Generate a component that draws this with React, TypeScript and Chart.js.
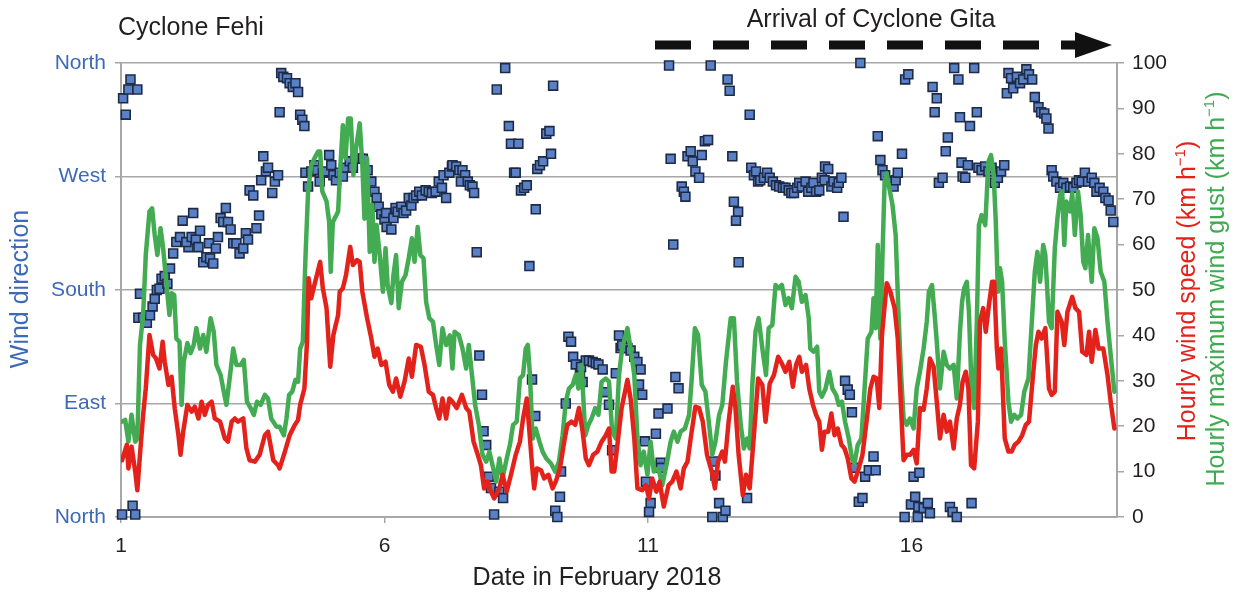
import React, { useEffect, useRef } from 'react';
import { Chart, registerables } from 'chart.js';

Chart.register(...registerables);

const FONT = '"Liberation Sans", Arial, Helvetica, sans-serif';

// ---- axis tick labels ----
const X_TICKS = [1, 6, 11, 16];
const DIR_TICK_LABELS = ['North', 'East', 'South', 'West', 'North'];

// ---- hourly wind speed (km/h) ----
const SPEED_DAYS = [
  1.02, 1.11, 1.14, 1.2, 1.27, 1.31, 1.36, 1.42, 1.47, 1.54,
  1.61, 1.66, 1.73, 1.79, 1.83, 1.9, 1.96, 2.02, 2.09, 2.13,
  2.18, 2.26, 2.34, 2.4, 2.47, 2.53, 2.59, 2.65, 2.72, 2.78,
  2.88, 2.97, 3.03, 3.1, 3.16, 3.22, 3.32, 3.38, 3.44, 3.54,
  3.63, 3.73, 3.79, 3.89, 3.98, 4.01, 4.11, 4.2, 4.3, 4.36,
  4.4, 4.48, 4.53, 4.56, 4.61, 4.67, 4.78, 4.83, 4.9, 4.97,
  5.03, 5.12, 5.15, 5.21, 5.27, 5.35, 5.4, 5.48, 5.53, 5.58,
  5.67, 5.75, 5.81, 5.87, 5.94, 6.02, 6.09, 6.16, 6.22, 6.3,
  6.38, 6.46, 6.52, 6.6, 6.69, 6.76, 6.84, 6.92, 6.98, 7.04,
  7.1, 7.17, 7.23, 7.29, 7.37, 7.47, 7.55, 7.61, 7.69, 7.77,
  7.83, 7.89, 7.96, 8.02, 8.08, 8.18, 8.24, 8.32, 8.4, 8.49,
  8.57, 8.63, 8.7, 8.75, 8.8, 8.84, 8.89, 8.97, 9.03, 9.11,
  9.19, 9.25, 9.33, 9.41, 9.47, 9.55, 9.62, 9.69, 9.76, 9.82,
  9.88, 9.96, 10.04, 10.12, 10.2, 10.26, 10.31, 10.36, 10.42, 10.5,
  10.61, 10.67, 10.74, 10.8, 10.89, 10.96, 11.02, 11.08, 11.16, 11.22,
  11.3, 11.39, 11.46, 11.54, 11.62, 11.68, 11.75, 11.81, 11.9, 11.97,
  12.04, 12.12, 12.21, 12.27, 12.33, 12.41, 12.46, 12.53, 12.61, 12.66,
  12.72, 12.8, 12.86, 12.93, 13.01, 13.09, 13.17, 13.23, 13.31, 13.39,
  13.47, 13.54, 13.61, 13.68, 13.75, 13.81, 13.87, 13.92, 14.0, 14.06,
  14.13, 14.19, 14.25, 14.3, 14.35, 14.42, 14.48, 14.54, 14.6, 14.67,
  14.73, 14.79, 14.86, 14.92, 15.0, 15.07, 15.14, 15.22, 15.28, 15.34,
  15.39, 15.44, 15.53, 15.6, 15.68, 15.74, 15.8, 15.85, 15.91, 15.97,
  16.04, 16.1, 16.16, 16.23, 16.29, 16.35, 16.42, 16.48, 16.54, 16.61,
  16.67, 16.73, 16.8, 16.86, 16.92, 16.97, 17.03, 17.08, 17.13, 17.19,
  17.26, 17.3, 17.36, 17.41, 17.47, 17.53, 17.57, 17.62, 17.65, 17.7,
  17.77, 17.84, 17.9, 17.96, 18.03, 18.1, 18.17, 18.23, 18.29, 18.36,
  18.41, 18.47, 18.54, 18.61, 18.66, 18.72, 18.77, 18.85, 18.9, 18.96,
  19.05, 19.11, 19.18, 19.24, 19.32, 19.37, 19.42, 19.49, 19.55, 19.64,
  19.72, 19.78, 19.85,
];
const SPEED_KMH = [
  12.5, 15.9, 10.7, 15.5, 10.0, 5.9, 13.7, 22.5, 28.3, 40.1,
  35.7, 35.0, 32.7, 38.6, 34.2, 29.1, 30.9, 23.9, 18.0, 13.7,
  18.8, 24.7, 23.2, 24.3, 21.7, 25.4, 22.5, 24.7, 25.4, 21.7,
  21.0, 17.3, 16.6, 21.0, 21.7, 21.0, 21.7, 15.1, 12.5, 12.2,
  13.7, 18.0, 18.8, 12.5, 11.4, 10.7, 14.4, 18.0, 20.3, 21.4,
  24.7, 28.3, 38.6, 52.6, 48.2, 51.1, 56.2, 50.4, 46.0, 33.1,
  40.1, 44.5, 49.6, 50.4, 53.3, 59.5, 55.5, 56.6, 56.2, 49.6,
  43.8, 39.3, 35.3, 37.1, 33.5, 34.2, 29.1, 27.6, 30.5, 26.5,
  29.8, 34.9, 30.9, 37.9, 37.5, 33.5, 27.6, 26.9, 24.0, 21.7,
  26.1, 21.7, 26.1, 25.4, 24.0, 26.9, 24.0, 23.2, 16.6, 13.7,
  11.4, 6.3, 7.8, 5.6, 4.1, 6.3, 9.3, 5.6, 9.3, 13.7,
  16.6, 21.7, 26.1, 18.8, 11.4, 6.3, 10.7, 10.3, 8.5, 9.3,
  6.3, 7.8, 10.7, 16.6, 20.3, 21.0, 20.3, 24.0, 18.8, 12.9,
  11.4, 13.7, 14.4, 16.6, 18.0, 19.5, 10.0, 10.0, 15.9, 24.0,
  30.2, 26.1, 17.3, 6.3, 5.9, 7.0, 4.1, 8.5, 5.6, 7.8,
  2.3, 7.0, 7.8, 10.0, 6.3, 10.7, 12.2, 17.3, 24.3, 24.0,
  21.0, 13.7, 10.0, 6.3, 12.2, 14.4, 12.2, 21.0, 28.7, 24.0,
  13.7, 4.8, 9.3, 6.3, 18.0, 30.5, 29.1, 21.0, 29.4, 31.3,
  35.3, 33.8, 32.0, 34.2, 28.7, 33.5, 35.3, 32.0, 33.5, 28.3,
  24.7, 22.5, 21.0, 14.8, 18.8, 18.8, 22.8, 18.0, 19.5, 15.9,
  15.1, 12.9, 8.5, 7.8, 10.7, 13.7, 20.3, 28.3, 30.9, 30.5,
  24.0, 40.1, 51.5, 49.6, 46.0, 39.3, 24.7, 12.5, 13.7, 13.7,
  14.8, 11.8, 24.0, 23.6, 28.3, 34.9, 33.1, 25.4, 17.3, 22.5,
  18.8, 21.0, 15.1, 21.7, 24.7, 29.8, 32.0, 28.3, 11.4, 10.7,
  21.0, 43.0, 46.0, 40.8, 46.7, 51.8, 51.8, 37.1, 32.7, 37.1,
  17.3, 14.4, 14.4, 15.9, 16.6, 18.0, 20.3, 21.0, 29.1, 37.9,
  40.8, 39.3, 41.6, 28.3, 26.9, 27.6, 45.2, 43.0, 37.9, 45.2,
  48.5, 46.0, 45.2, 36.4, 35.7, 40.8, 34.2, 41.2, 37.1, 37.1,
  31.3, 25.4, 19.5,
];

// ---- hourly maximum wind gust (km/h) ----
const GUST_DAYS = [
  1.02, 1.08, 1.14, 1.2, 1.27, 1.31, 1.36, 1.42, 1.47, 1.54,
  1.59, 1.64, 1.69, 1.75, 1.8, 1.87, 1.92, 1.96, 2.01, 2.05,
  2.11, 2.15, 2.19, 2.26, 2.32, 2.38, 2.43, 2.5, 2.56, 2.62,
  2.7, 2.76, 2.81, 2.89, 2.95, 3.0, 3.07, 3.13, 3.19, 3.27,
  3.33, 3.39, 3.46, 3.52, 3.58, 3.65, 3.73, 3.79, 3.85, 3.95,
  4.01, 4.09, 4.14, 4.19, 4.25, 4.31, 4.36, 4.4, 4.45, 4.5,
  4.55, 4.61, 4.67, 4.74, 4.78, 4.82, 4.9, 4.95, 4.98, 5.02,
  5.07, 5.12, 5.16, 5.21, 5.26, 5.31, 5.36, 5.41, 5.46, 5.53,
  5.58, 5.62, 5.67, 5.72, 5.77, 5.81, 5.85, 5.91, 5.97, 6.02,
  6.06, 6.13, 6.17, 6.22, 6.27, 6.33, 6.4, 6.46, 6.52, 6.57,
  6.63, 6.68, 6.74, 6.79, 6.85, 6.92, 6.98, 7.04, 7.1, 7.17,
  7.24, 7.29, 7.33, 7.41, 7.48, 7.55, 7.6, 7.66, 7.72, 7.79,
  7.86, 7.93, 7.99, 8.05, 8.12, 8.18, 8.24, 8.32, 8.38, 8.44,
  8.51, 8.57, 8.63, 8.68, 8.72, 8.76, 8.81, 8.87, 8.94, 9.0,
  9.07, 9.16, 9.24, 9.31, 9.38, 9.44, 9.5, 9.57, 9.63, 9.68,
  9.74, 9.81, 9.87, 9.93, 10.0, 10.06, 10.12, 10.2, 10.26, 10.32,
  10.39, 10.45, 10.51, 10.61, 10.67, 10.74, 10.8, 10.86, 10.92, 10.99,
  11.05, 11.11, 11.2, 11.27, 11.35, 11.43, 11.49, 11.56, 11.62, 11.7,
  11.78, 11.83, 11.89, 11.95, 12.02, 12.09, 12.16, 12.22, 12.28, 12.35,
  12.41, 12.48, 12.57, 12.63, 12.69, 12.76, 12.82, 12.88, 12.93, 12.98,
  13.04, 13.1, 13.17, 13.24, 13.29, 13.36, 13.42, 13.48, 13.54, 13.61,
  13.67, 13.73, 13.8, 13.86, 13.92, 13.99, 14.05, 14.08, 14.14, 14.21,
  14.25, 14.3, 14.37, 14.44, 14.5, 14.57, 14.62, 14.68, 14.74, 14.81,
  14.87, 14.92, 14.98, 15.05, 15.11, 15.17, 15.24, 15.28, 15.32, 15.36,
  15.41, 15.45, 15.49, 15.53, 15.58, 15.64, 15.7, 15.75, 15.8, 15.85,
  15.91, 15.97, 16.04, 16.1, 16.16, 16.23, 16.29, 16.33, 16.39, 16.44,
  16.48, 16.54, 16.61, 16.67, 16.73, 16.8, 16.86, 16.92, 16.96, 17.0,
  17.05, 17.09, 17.14, 17.19, 17.24, 17.28, 17.33, 17.4, 17.46, 17.51,
  17.56, 17.6, 17.64, 17.68, 17.72, 17.77, 17.84, 17.89, 17.95, 18.01,
  18.08, 18.14, 18.22, 18.28, 18.34, 18.39, 18.44, 18.5, 18.54, 18.61,
  18.66, 18.72, 18.77, 18.82, 18.86, 18.9, 18.94, 19.01, 19.05, 19.1,
  19.16, 19.21, 19.26, 19.3, 19.35, 19.42, 19.47, 19.53, 19.59, 19.66,
  19.72, 19.78, 19.85,
];
const GUST_KMH = [
  21.0, 21.4, 16.6, 22.5, 16.6, 17.3, 37.9, 44.5, 57.7, 67.3,
  68.0, 62.1, 57.7, 63.6, 59.2, 50.4, 44.5, 49.3, 48.9, 39.3,
  38.6, 24.7, 34.2, 38.3, 36.1, 37.9, 41.6, 37.1, 40.1, 36.4,
  43.8, 40.8, 33.5, 31.3, 27.6, 24.7, 31.3, 37.1, 33.5, 33.5,
  34.6, 25.4, 24.0, 22.5, 25.4, 24.7, 26.9, 26.1, 21.7, 19.9,
  19.9, 18.0, 21.7, 26.9, 27.6, 30.2, 29.8, 37.1, 38.6, 57.0,
  71.7, 77.5, 79.0, 80.5, 80.5, 71.7, 69.5, 65.0, 54.0, 65.0,
  66.1, 67.3, 76.8, 86.3, 79.0, 87.8, 87.8, 75.3, 81.2, 86.7,
  77.5, 65.7, 79.0, 58.4, 68.7, 56.2, 64.3, 57.7, 49.6, 59.2,
  51.1, 47.1, 53.3, 57.7, 46.0, 51.8, 53.3, 57.0, 61.4, 56.2,
  63.9, 57.7, 57.0, 47.4, 43.8, 43.0, 37.9, 33.5, 41.6, 37.9,
  40.0, 32.7, 40.8, 40.1, 37.1, 32.7, 37.9, 31.3, 24.7, 20.3,
  13.7, 12.2, 14.4, 11.4, 7.8, 12.9, 8.5, 12.9, 15.9, 20.3,
  21.0, 30.5, 31.3, 37.1, 37.9, 31.3, 17.3, 19.5, 16.6, 14.4,
  12.9, 11.8, 10.0, 12.2, 18.0, 25.4, 28.3, 29.1, 31.3, 28.3,
  33.5, 18.0, 20.3, 21.7, 24.0, 22.5, 29.8, 30.5, 29.8, 18.8,
  17.3, 31.3, 37.1, 41.6, 37.1, 31.3, 17.3, 11.4, 14.4, 9.3,
  16.6, 10.0, 10.7, 7.0, 11.4, 16.6, 18.8, 16.6, 18.8, 19.5,
  22.5, 30.5, 41.6, 40.1, 29.1, 27.6, 20.3, 13.7, 16.6, 22.5,
  24.7, 34.2, 43.8, 43.8, 29.8, 20.3, 15.1, 17.3, 15.1, 29.1,
  40.8, 43.8, 37.1, 31.3, 41.6, 42.3, 51.1, 50.4, 51.1, 46.7,
  48.2, 46.0, 52.9, 51.8, 47.4, 48.9, 43.8, 37.1, 36.4, 37.5,
  27.6, 26.5, 28.3, 32.0, 28.3, 26.9, 24.7, 25.4, 21.0, 17.3,
  12.9, 11.8, 15.9, 17.3, 28.3, 39.3, 40.8, 48.2, 41.6, 59.9,
  39.3, 57.7, 73.9, 75.7, 72.4, 68.7, 62.1, 46.0, 32.0, 21.7,
  20.3, 21.7, 19.5, 28.3, 32.0, 37.1, 43.0, 49.6, 51.1, 44.5,
  38.6, 28.3, 36.4, 33.5, 32.7, 33.5, 26.1, 40.8, 47.4, 50.4,
  51.8, 45.2, 28.3, 24.0, 43.0, 64.3, 66.5, 64.3, 78.3, 79.7,
  75.3, 65.0, 49.6, 54.8, 51.8, 38.6, 25.4, 21.0, 22.5, 21.7,
  22.5, 27.6, 30.5, 42.3, 54.0, 58.4, 51.8, 59.9, 57.7, 43.0,
  41.6, 59.2, 65.8, 70.9, 71.7, 59.9, 69.5, 67.3, 71.3, 62.1,
  71.7, 66.5, 56.2, 54.8, 62.1, 51.8, 63.6, 61.4, 54.0, 51.8,
  43.0, 35.7, 27.6,
];

// ---- wind direction (degrees, 0 = North) ----
const DIR_DAYS = [
  1.04, 1.09, 1.14, 1.18, 1.31, 1.02, 1.22, 1.27, 1.36, 1.33,
  1.42, 1.49, 1.55, 1.6, 1.64, 1.68, 1.73, 1.77, 1.83, 1.88,
  1.93, 1.99, 2.05, 2.12, 2.17, 2.28, 2.24, 2.34, 2.37, 2.42,
  2.47, 2.5, 2.56, 2.62, 2.69, 2.75, 2.67, 2.8, 2.84, 2.89,
  2.94, 2.99, 3.03, 3.08, 3.13, 3.19, 3.25, 3.32, 3.37, 3.41,
  3.44, 3.51, 3.57, 3.62, 3.66, 3.7, 3.75, 3.79, 3.87, 3.92,
  3.98, 4.01, 4.04, 4.08,
  4.15, 4.2, 4.26, 4.31, 4.36, 4.4, 4.44, 4.48, 4.5, 4.55,
  4.61, 4.67, 4.72, 4.77, 4.83, 4.9, 4.95, 4.99, 5.03, 5.08,
  5.15, 5.21, 5.27, 5.34, 5.4, 5.45, 5.53, 5.59, 5.68, 5.75,
  5.81, 5.85, 5.89, 5.94, 6.0, 6.03, 6.04, 6.13, 6.17, 6.21,
  6.25, 6.32, 6.36, 6.41, 6.46, 6.51, 6.55, 6.6, 6.66, 6.71,
  6.78, 6.84, 6.9, 6.97, 7.03, 7.09, 7.12, 7.17, 7.23, 7.28,
  7.29, 7.36, 7.42, 7.48, 7.53, 7.45, 7.58, 7.62, 7.67, 7.7,
  7.75, 7.8, 7.85, 7.88, 7.93, 7.98, 8.02, 8.08, 8.18, 8.25,
  8.13, 8.29, 8.36, 8.4, 8.54, 8.46, 8.49, 8.59, 8.65, 8.7,
  8.75, 8.87, 8.8, 8.86, 8.9, 8.95, 9.01, 9.07, 9.13, 9.16,
  9.2, 9.35, 9.33, 9.24, 9.28, 9.44, 9.49, 9.54, 9.58, 9.63,
  9.71, 9.76, 9.73, 9.82, 9.88, 9.95, 10.01, 10.06, 10.14, 10.2,
  10.26, 10.32, 10.39, 10.45, 10.48,
  10.51, 10.61, 10.67, 10.74, 10.8, 10.86, 10.83, 10.89, 10.94, 10.96,
  11.05, 11.02, 11.15, 11.2, 11.37, 11.24, 11.25, 11.52, 11.58, 11.4,
  11.43, 11.48, 11.64, 11.68, 11.71, 11.75, 11.81, 11.85, 11.9, 11.97,
  12.02, 12.08, 12.14, 12.19, 12.25, 12.28, 12.35, 12.22, 12.42, 12.47,
  12.51, 12.55, 12.6, 12.63, 12.71, 12.67, 12.72, 12.93, 12.88, 12.96,
  13.01, 13.05, 13.09, 13.13, 13.2, 13.26, 13.31, 13.37, 13.43, 13.49,
  13.56, 13.61, 13.67, 13.72,
  13.77, 13.83, 13.87, 13.92, 13.99, 14.04, 14.1, 14.14, 14.19, 14.25,
  14.3, 14.35, 14.36, 14.42, 14.48, 14.52, 14.59, 14.62, 14.67, 14.71,
  14.74, 14.79, 14.83, 14.87, 15.03, 14.92, 15.0, 15.07, 15.12, 15.19,
  15.28, 15.32, 15.36, 15.41, 15.45, 15.5, 15.56, 15.66, 15.7, 15.74,
  15.82, 15.88, 15.94, 16.04, 16.15, 15.87, 15.99, 16.07, 16.13, 16.12,
  16.23, 16.31, 16.35, 16.4, 16.48, 16.44, 16.69, 16.65, 16.52, 16.59,
  16.73, 16.78, 16.86, 16.81, 16.89, 16.92, 16.95, 16.97,
  17.11, 17.19, 17.24, 17.07, 17.02, 17.14, 17.27, 17.33, 17.4, 17.46,
  17.52, 17.58, 17.64, 17.7, 17.76, 17.81, 17.84, 17.89, 17.93, 18.0,
  18.06, 18.12, 18.18, 18.23, 18.29, 18.34, 18.41, 18.46, 18.52, 18.56,
  18.6, 18.66, 18.69, 18.75, 18.82, 18.88, 18.94, 19.01, 19.07, 19.13,
  19.18, 19.23, 19.29, 19.35, 19.42, 19.47, 19.51, 19.57, 19.64, 19.68,
  19.74, 19.78, 19.83,
];
const DIR_DEG = [
  332, 319, 339, 347, 339, 2, 9, 2, 177, 158,
  158, 154, 160, 167, 173, 180, 181, 189, 191, 185,
  197, 209, 218, 222, 235, 214, 218, 222, 241, 220,
  214, 227, 202, 206, 205, 201, 217, 213, 222, 237,
  234, 245, 234, 228, 217, 217, 209, 213, 225, 220,
  259, 255, 229, 239, 267, 286, 274, 277, 257, 266,
  271, 321, 352, 349,
  348, 344, 341, 344, 337, 319, 315, 310, 273, 262,
  274, 279, 275, 266, 273, 274, 287, 279, 271, 267,
  273, 270, 277, 282, 277, 284, 284, 284, 275, 266,
  258, 253, 246, 240, 236, 241, 230, 228, 237, 245,
  242, 246, 241, 243, 253, 247, 253, 255, 258, 255,
  259, 258, 257, 258, 266, 261, 271, 253, 273, 278,
  279, 278, 275, 275, 271, 266, 266, 263, 262, 257,
  210, 128, 97, 68, 57, 32, 23, 2, 20, 15,
  339, 356, 310, 296, 296, 273, 273, 259, 261, 263,
  199, 244, 109, 80, 276, 279, 282, 304, 306, 288,
  342, 36, 16, 5, 0, 90, 143, 139, 127, 121,
  113, 107, 119, 124, 124, 123, 122, 121, 117, 99,
  89, 53, 114, 144, 134,
  136, 134, 132, 127, 123, 117, 105, 97, 60, 28,
  11, 4, 66, 82, 86, 43, 39, 111, 102, 358,
  284, 216, 262, 258, 254, 286, 290, 282, 274, 269,
  287, 298, 299, 358, 44, 33, 11, 0, 0, 5,
  347, 338, 286, 250, 242, 235, 202, 319, 15, 277,
  271, 274, 266, 267, 269, 273, 269, 266, 263, 262,
  261, 261, 259, 257,
  257, 261, 265, 262, 266, 258, 261, 265, 258, 259,
  269, 267, 278, 276, 262, 266, 261, 265, 269, 238,
  108, 101, 97, 83, 360, 39, 12, 15, 32, 37,
  48, 37, 302, 283, 275, 271, 266, 262, 267, 273,
  288, 347, 351, 32, 35, 0, 10, 16, 8, 0,
  7, 11, 3, 341, 332, 321, 301, 290, 265, 269,
  8, 4, 0, 356, 347, 317, 281, 270,
  310, 356, 321, 279, 269, 11, 277, 275, 278, 274,
  277, 265, 269, 274, 279, 336, 352, 348, 340, 349,
  344, 347, 355, 351, 347, 333, 325, 321, 320, 316,
  308, 275, 270, 266, 261, 265, 261, 262, 261, 265,
  267, 266, 273, 266, 269, 265, 258, 261, 258, 253,
  251, 243, 234,
];

const zip = (xs: number[], ys: number[]) => xs.map((x, i) => ({ x, y: ys[i] }));

const BLUE_TEXT = '#3C6AB6';
const DARK = '#231F20';
const GRID = '#A7A7A7';

function drawRotated(
  ctx: CanvasRenderingContext2D,
  cx: number,
  cy: number,
  parts: { t: string; size: number; dy: number }[],
  color: string
) {
  ctx.save();
  ctx.translate(cx, cy);
  ctx.rotate(-Math.PI / 2);
  ctx.fillStyle = color;
  ctx.textBaseline = 'middle';
  ctx.textAlign = 'left';
  let total = 0;
  for (const p of parts) {
    ctx.font = `${p.size}px ${FONT}`;
    total += ctx.measureText(p.t).width;
  }
  let x = -total / 2;
  for (const p of parts) {
    ctx.font = `${p.size}px ${FONT}`;
    ctx.fillText(p.t, x, p.dy);
    x += ctx.measureText(p.t).width;
  }
  ctx.restore();
}

const annotations = {
  id: 'annotations',
  afterDraw(chart: any) {
    const ctx: CanvasRenderingContext2D = chart.ctx;
    ctx.save();
    ctx.fillStyle = DARK;
    ctx.font = `25px ${FONT}`;
    ctx.textBaseline = 'middle';
    ctx.textAlign = 'left';
    ctx.fillText('Cyclone Fehi', 118, 28);
    ctx.textAlign = 'center';
    ctx.fillText('Arrival of Cyclone Gita', 871, 20);
    ctx.fillText('Date in February 2018', 597, 578);

    // dashed arrow
    ctx.strokeStyle = '#111111';
    ctx.lineWidth = 9;
    ctx.lineCap = 'butt';
    ctx.setLineDash([36, 22]);
    ctx.beginPath();
    ctx.moveTo(655, 45);
    ctx.lineTo(1079, 45);
    ctx.stroke();
    ctx.setLineDash([]);
    ctx.fillStyle = '#111111';
    ctx.beginPath();
    ctx.moveTo(1075, 32);
    ctx.lineTo(1112, 45);
    ctx.lineTo(1075, 58);
    ctx.closePath();
    ctx.fill();
    ctx.restore();

    drawRotated(ctx, 21, 289, [{ t: 'Wind direction', size: 25, dy: 0 }], BLUE_TEXT);
    drawRotated(
      ctx,
      1188,
      291,
      [
        { t: 'Hourly wind speed (km h', size: 25, dy: 0 },
        { t: '\u22121', size: 15, dy: -7 },
        { t: ')', size: 25, dy: 0 },
      ],
      '#E3231B'
    );
    drawRotated(
      ctx,
      1217,
      289,
      [
        { t: 'Hourly maximum wind gust (km h', size: 25, dy: 0 },
        { t: '\u22121', size: 15, dy: -7 },
        { t: ')', size: 25, dy: 0 },
      ],
      '#3FAA50'
    );
  },
};

export default function App() {
  const ref = useRef<HTMLCanvasElement | null>(null);

  useEffect(() => {
    if (!ref.current) return;
    Chart.defaults.font.family = FONT;
    const chart = new Chart(ref.current, {
      type: 'scatter',
      data: {
        datasets: [
          {
            label: 'Hourly wind speed',
            data: zip(SPEED_DAYS, SPEED_KMH),
            yAxisID: 'y2',
            showLine: true,
            borderColor: '#E3231B',
            backgroundColor: '#E3231B',
            borderWidth: 4.5,
            borderJoinStyle: 'round',
            borderCapStyle: 'round',
            pointRadius: 0,
            order: 0,
          },
          {
            label: 'Hourly maximum wind gust',
            data: zip(GUST_DAYS, GUST_KMH),
            yAxisID: 'y2',
            showLine: true,
            borderColor: '#43AC53',
            backgroundColor: '#43AC53',
            borderWidth: 4.5,
            borderJoinStyle: 'round',
            borderCapStyle: 'round',
            pointRadius: 0,
            order: 1,
          },
          {
            label: 'Wind direction',
            data: zip(DIR_DAYS, DIR_DEG),
            yAxisID: 'y',
            showLine: false,
            pointStyle: 'rect',
            pointRadius: 6.3,
            pointBorderWidth: 1.6,
            borderColor: '#1E2B47',
            backgroundColor: '#5A80C6',
            clip: false as any,
            order: 2,
          },
        ],
      },
      options: {
        animation: false,
        responsive: false,
        devicePixelRatio: 1,
        events: [],
        layout: { padding: { top: 63, left: 0, right: 0, bottom: 0 } },
        plugins: { legend: { display: false }, tooltip: { enabled: false }, title: { display: false } },
        scales: {
          x: {
            type: 'linear',
            min: 1,
            max: 19.9,
            afterBuildTicks: (scale: any) => {
              scale.ticks = X_TICKS.map((v) => ({ value: v }));
            },
            afterFit: (scale: any) => {
              scale.height = 76;
            },
            ticks: {
              font: { size: 21, family: FONT },
              color: DARK,
              padding: 11,
              maxRotation: 0,
              callback: (v: any) => String(v),
            },
            grid: { drawOnChartArea: false, drawTicks: true, tickLength: 6, color: GRID, lineWidth: 1.5 },
            border: { color: GRID, width: 2 },
          },
          y: {
            type: 'linear',
            position: 'left',
            min: 0,
            max: 360,
            afterFit: (scale: any) => {
              scale.width = 121;
            },
            ticks: {
              stepSize: 90,
              font: { size: 21, family: FONT },
              color: BLUE_TEXT,
              padding: 9,
              callback: (_v: any, i: number) => DIR_TICK_LABELS[i],
            },
            grid: { drawOnChartArea: true, drawTicks: true, tickLength: 6, color: GRID, lineWidth: 1.5 },
            border: { color: GRID, width: 2 },
          },
          y2: {
            type: 'linear',
            position: 'right',
            min: 0,
            max: 100,
            afterFit: (scale: any) => {
              scale.width = 118;
            },
            ticks: {
              stepSize: 10,
              font: { size: 21, family: FONT },
              color: DARK,
              padding: 8,
            },
            grid: { drawOnChartArea: false, drawTicks: true, tickLength: 7, color: GRID, lineWidth: 1.5 },
            border: { color: GRID, width: 2 },
          },
        },
      } as any,
      plugins: [annotations],
    });
    return () => chart.destroy();
  }, []);

  return (
    <div style={{ position: 'absolute', left: 0, top: 0, width: 1235, height: 593, background: '#fff' }}>
      <canvas ref={ref} width={1235} height={593} style={{ display: 'block', width: 1235, height: 593 }} />
    </div>
  );
}
